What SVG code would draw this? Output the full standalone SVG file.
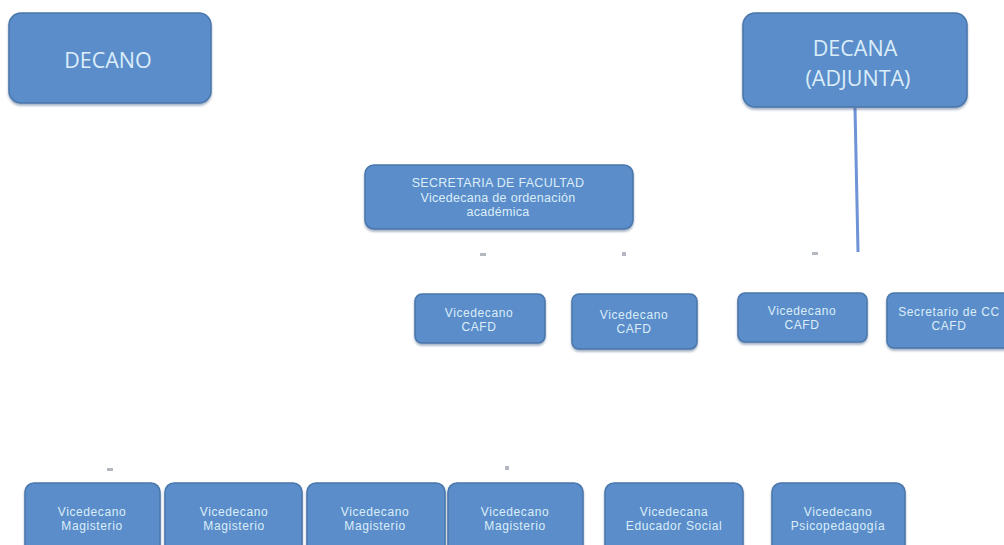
<svg xmlns="http://www.w3.org/2000/svg" width="1004" height="545" viewBox="0 0 1004 545">
<style>
.box{fill:#5a8dca;stroke:#4a76ab;stroke-width:1.5;filter:url(#sh)}
.t{font-family:"Open Sans","Liberation Sans",sans-serif;fill:#dcedf9;text-anchor:middle}
.n{font-family:"Liberation Sans",Arial,sans-serif;fill:#dcedf9;text-anchor:middle}
.s{font-size:12px;letter-spacing:0.6px}
.dot{fill:#b4b8c0}
</style>
<defs>
<filter id="sh" x="-10%" y="-10%" width="120%" height="130%">
<feDropShadow dx="0" dy="2" stdDeviation="1.2" flood-color="#2f4f7a" flood-opacity="0.45"/>
</filter>
</defs>
<rect width="1004" height="545" fill="#ffffff"/>
<g id="connectors">
<line x1="855" y1="108" x2="858" y2="252" stroke="#6e93d6" stroke-width="3"/>
<rect class="dot" x="480" y="253" width="6" height="3"/>
<rect class="dot" x="622" y="252" width="4" height="4"/>
<rect class="dot" x="812" y="252" width="6" height="3"/>
<rect class="dot" x="107" y="468" width="6" height="3"/>
<rect class="dot" x="505" y="466" width="4" height="4"/>
</g>
<g id="decano">
<rect class="box" x="9" y="13" width="202" height="90" rx="12"/>
<text class="t" x="108" y="68" font-size="21.5">DECANO</text>
</g>
<g id="decana">
<rect class="box" x="743" y="13" width="224" height="94" rx="12"/>
<text class="t" x="855" y="56" font-size="21.5">DECANA</text>
<text class="t" x="858" y="86" font-size="21.5">(ADJUNTA)</text>
</g>
<g id="secretaria">
<rect class="box" x="365" y="165" width="268" height="64" rx="9"/>
<text class="n" x="498" y="187" font-size="12.5" letter-spacing="0.3">SECRETARIA DE FACULTAD</text>
<text class="n" x="498" y="201.5" font-size="12.5" letter-spacing="0.3">Vicedecana de ordenación</text>
<text class="n" x="498" y="216" font-size="12.5" letter-spacing="0.3">académica</text>
</g>
<g id="cafd1">
<rect class="box" x="415" y="294" width="130" height="49" rx="7"/>
<text class="n s" x="479" y="317">Vicedecano</text>
<text class="n s" x="479" y="331">CAFD</text>
</g>
<g id="cafd2">
<rect class="box" x="572" y="294" width="125" height="55" rx="7"/>
<text class="n s" x="634" y="319">Vicedecano</text>
<text class="n s" x="634" y="333">CAFD</text>
</g>
<g id="cafd3">
<rect class="box" x="738" y="293" width="129" height="49" rx="7"/>
<text class="n s" x="802" y="315">Vicedecano</text>
<text class="n s" x="802" y="329">CAFD</text>
</g>
<g id="secretario-cc">
<rect class="box" x="887" y="293" width="130" height="55" rx="7"/>
<text class="n s" x="949" y="316">Secretario de CC</text>
<text class="n s" x="949" y="330">CAFD</text>
</g>
<g id="mag1">
<rect class="box" x="25" y="483" width="135" height="75" rx="9"/>
<text class="n s" x="92" y="516">Vicedecano</text>
<text class="n s" x="92" y="530">Magisterio</text>
</g>
<g id="mag2">
<rect class="box" x="165" y="483" width="137" height="75" rx="9"/>
<text class="n s" x="234" y="516">Vicedecano</text>
<text class="n s" x="234" y="530">Magisterio</text>
</g>
<g id="mag3">
<rect class="box" x="307" y="483" width="138" height="75" rx="9"/>
<text class="n s" x="375" y="516">Vicedecano</text>
<text class="n s" x="375" y="530">Magisterio</text>
</g>
<g id="mag4">
<rect class="box" x="448" y="483" width="135" height="75" rx="9"/>
<text class="n s" x="515" y="516">Vicedecano</text>
<text class="n s" x="515" y="530">Magisterio</text>
</g>
<g id="educador">
<rect class="box" x="605" y="483" width="138" height="75" rx="9"/>
<text class="n s" x="674" y="516">Vicedecana</text>
<text class="n s" x="674" y="530">Educador Social</text>
</g>
<g id="psico">
<rect class="box" x="772" y="483" width="133" height="75" rx="9"/>
<text class="n s" x="838" y="516">Vicedecano</text>
<text class="n s" x="838" y="530">Psicopedagogía</text>
</g>
</svg>
